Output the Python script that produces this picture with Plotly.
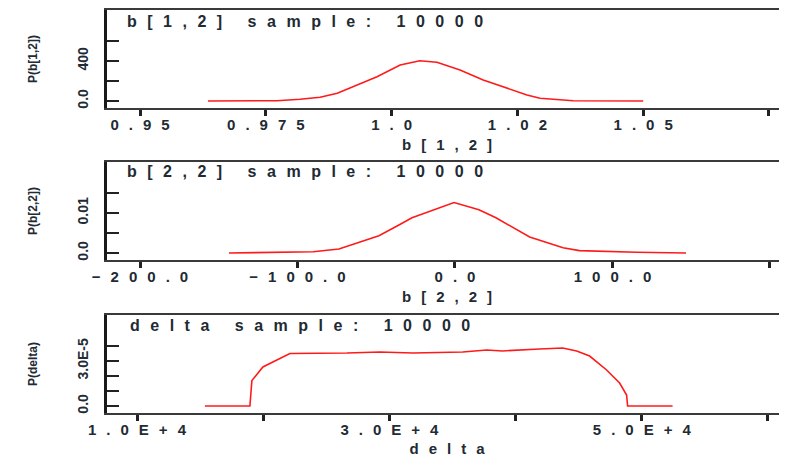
import plotly.graph_objects as go

# ---- data ----
b12_x = [0.9635, 0.9772, 0.9818, 0.9858, 0.9892, 0.9931, 0.9971, 1.0017, 1.0056,
         1.0090, 1.0136, 1.0182, 1.0229, 1.0269, 1.0295, 1.0361, 1.0500]
b12_y = [0, 3, 17, 37, 77, 160, 243, 360, 403, 387, 310, 210, 127, 60, 27, 3, 0]

b22_x = [-143.5, -111.7, -90.0, -73.7, -56.5, -48.3, -35.6, -27.3, -0.6,
         15.2, 26.0, 47.4, 68.6, 79.0, 115.0, 146.7]
b22_y = [0.0, 0.0002, 0.0003, 0.001, 0.0033, 0.0043, 0.007, 0.0088, 0.0126,
         0.0108, 0.0088, 0.004, 0.0013, 0.0006, 0.0002, 0.0]

delta_x = [15384, 18947, 19026, 19105, 19976, 21085, 22114, 26627, 29240, 31853,
           35812, 37712, 38979, 41908, 43729, 44838, 45867, 47213, 48243, 48797,
           48876, 52439]
delta_y = [0, 0, 0.87e-5, 1.7e-5, 2.6e-5, 3.07e-5, 3.5e-5, 3.53e-5, 3.6e-5, 3.53e-5,
           3.6e-5, 3.73e-5, 3.67e-5, 3.8e-5, 3.87e-5, 3.67e-5, 3.33e-5, 2.4e-5, 1.53e-5,
           0.73e-5, 0.0, 0.0]

panel_titles = ["b[1,2] sample: 10000", "b[2,2] sample: 10000", "delta sample: 10000"]
x_titles = ["b[1,2]", "b[2,2]", "delta"]
y_titles = ["P(b[1,2])", "P(b[2,2])", "P(delta)"]

b12_xticks = [0.95, 0.975, 1.0, 1.025, 1.05, 1.075]
b12_xlabels = ["0.95", "0.975", "1.0", "1.02", "1.05", ""]
b12_yticks = [0, 200, 400, 600]
b12_ylabels = ["0.0", "", "400", ""]

b22_xticks = [-200, -100, 0, 100, 200]
b22_xlabels = ["\u2212200.0", "\u2212100.0", "0.0", "100.0", ""]
b22_yticks = [0, 0.005, 0.01, 0.015]
b22_ylabels = ["0.0", "", "0.01", ""]

delta_xticks = [10000, 20000, 30000, 40000, 50000, 60000]
delta_xlabels = ["1.0E+4", "", "3.0E+4", "", "5.0E+4", ""]
delta_yticks = [0, 1e-5, 2e-5, 3e-5, 4e-5]
delta_ylabels = ["0.0", "", "", "3.0E-5", ""]

# ---- styling helpers ----
# the page body keeps the browser's 8px margin, so the figure is sized to the
# visible part of the 787x457 window and reference pixels are shifted by 8.
OFF = 8
W, H = 787 - OFF, 457 - OFF
FONT = "Liberation Sans"
TXT = "#222a33"


def spaced(s, ls):
    if len(s) < 2:
        return s
    return f'<span style="letter-spacing:{ls}px">{s[:-1]}</span>{s[-1]}'


def px(p):
    return (p - OFF) / W


def py(p):
    return 1 - (p - OFF) / H


panels = [
    dict(x=b12_x, y=b12_y, xr=[0.94344, 1.07858], yr=[-70, 910],
         xt=b12_xticks, xl=b12_xlabels, yt=b12_yticks, yl=b12_ylabels,
         top=10, bot=108, tx=125, ty=21),
    dict(x=b22_x, y=b22_y, xr=[-220.95, 210.8], yr=[-0.00175, 0.02275],
         xt=b22_xticks, xl=b22_xlabels, yt=b22_yticks, yl=b22_ylabels,
         top=162, bot=260, tx=125, ty=172),
    dict(x=delta_x, y=delta_y, xr=[7623, 61506], yr=[-0.467e-5, 6.067e-5],
         xt=delta_xticks, xl=delta_xlabels, yt=delta_yticks, yl=delta_ylabels,
         top=315, bot=413, tx=128, ty=325),
]

fig = go.Figure()
annotations = []
for i, p in enumerate(panels):
    n = "" if i == 0 else str(i + 1)
    fig.add_trace(go.Scatter(x=p["x"], y=p["y"], mode="lines",
                             line=dict(color="#ff1a1a", width=1.6),
                             xaxis="x" + n, yaxis="y" + n, showlegend=False,
                             hoverinfo="skip"))
    fig.layout["xaxis" + n] = dict(
        domain=[px(107), 1], range=p["xr"], anchor="y" + n, automargin=False,
        tickmode="array", tickvals=p["xt"],
        ticktext=[spaced(t, 10) for t in p["xl"]], tickangle=0,
        ticks="outside", ticklen=6, tickwidth=2.5, tickcolor="#222",
        showline=True, mirror=True, linecolor="#3a3a3a", linewidth=2,
        showgrid=False, zeroline=False, ticklabelstandoff=-4,
        tickfont=dict(family=FONT, size=15, color=TXT, weight="bold"),
        title=dict(text=spaced(x_titles[i], 10), standoff=7,
                   font=dict(family=FONT, size=15, color=TXT, weight="bold")),
    )
    fig.layout["yaxis" + n] = dict(
        domain=[py(p["bot"]), py(p["top"])], range=p["yr"], anchor="x" + n,
        automargin=False,
        tickmode="array", tickvals=p["yt"], ticktext=p["yl"], tickangle=-90,
        ticks="inside", ticklen=12, tickwidth=1.5, tickcolor="#222",
        showline=True, linecolor="#1a1a1a", linewidth=3,
        showgrid=False, zeroline=False, ticklabelstandoff=10,
        tickfont=dict(family=FONT, size=14, color=TXT, weight="bold"),
        title=dict(text=y_titles[i], standoff=36,
                   font=dict(family=FONT, size=12, color=TXT, weight="bold")),
    )
    annotations.append(dict(
        xref="paper", yref="paper", x=px(p["tx"]), y=py(p["ty"]),
        xanchor="left", yanchor="middle", showarrow=False,
        text=spaced(panel_titles[i], 10.5),
        font=dict(family=FONT, size=16, color=TXT, weight="bold")))

fig.update_layout(
    width=W, height=H, margin=dict(l=0, r=0, t=0, b=0),
    paper_bgcolor="white", plot_bgcolor="white",
    annotations=annotations,
)

fig.write_html("out.html")
